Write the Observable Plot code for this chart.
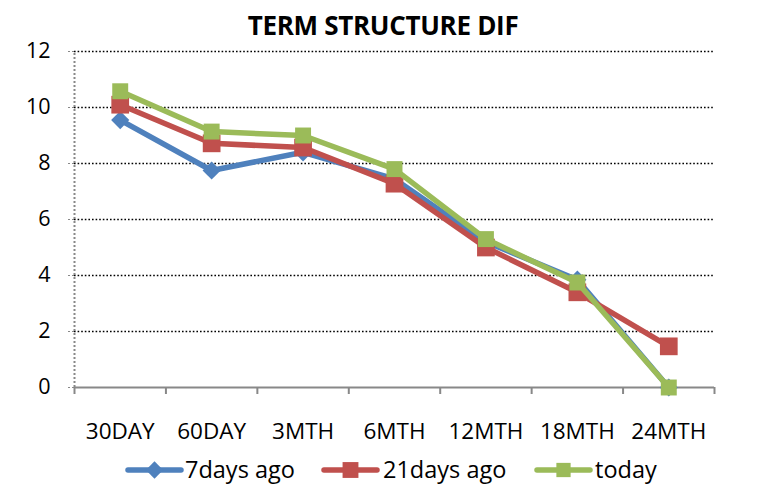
<!DOCTYPE html>
<html><head><meta charset="utf-8">
<script src="https://cdn.jsdelivr.net/npm/d3@7"></script>
<script src="https://cdn.jsdelivr.net/npm/@observablehq/plot@0.6"></script>
<style>
body{margin:0;background:#fff;font-family:"Open Sans",sans-serif;}
#wrap{width:764px;height:494px;position:relative;}
#title{position:absolute;top:0;left:0;width:764px;height:50px;line-height:50px;text-align:center;font-weight:bold;font-size:26px;color:#000;padding-left:2px;box-sizing:border-box;letter-spacing:-0.3px;}
#chart{position:absolute;top:26px;left:0;}
#legend{position:absolute;top:452px;left:0;width:764px;height:36px;}
svg{display:block}
</style></head><body>
<div id="wrap"><div id="title">TERM STRUCTURE DIF</div><div id="chart"></div><div id="legend"></div></div>
<script>
const categories = ["30DAY","60DAY","3MTH","6MTH","12MTH","18MTH","24MTH"];
const seriesNames = ["7days ago","21days ago","today"];
const days7 = [9.55, 7.75, 8.4, 7.45, 5.2, 3.85, 0];
const days21 = [10.1, 8.72, 8.57, 7.28, 5.0, 3.4, 1.47];
const today = [10.58, 9.14, 9.0, 7.8, 5.3, 3.75, 0];
const yTicks = [0, 2, 4, 6, 8, 10, 12];
const colors = ["#4F81BD", "#C0504D", "#9BBB59"];
const symbols = ["diamond2", "square", "square"];
const sizes = [8.2, 10, 9];

const all = [days7, days21, today];
const rows = [];
all.forEach((vals, s) => vals.forEach((v, i) => rows.push({series: seriesNames[s], i, v})));
const edges = d3.range(-0.5, 7, 1);
const FONT = "'Open Sans', sans-serif";

const marks = [
  Plot.ruleY(yTicks.filter(d => d > 0), {stroke: "#000", strokeWidth: 1.6, strokeDasharray: "1.6,2"}),
  Plot.ruleX([-0.5], {y1: 0, y2: 12, stroke: "#888", strokeWidth: 2, strokeDasharray: "2,2"}),
  Plot.axisY({ticks: yTicks, tickSize: 6, tickFormat: () => "", stroke: "#888", strokeDasharray: "2,2", label: null}),
  Plot.axisY({ticks: yTicks, tickSize: 0, tickPadding: 0, dx: -24, fontSize: 21.5, color: "#000", label: null}),
  Plot.axisX({ticks: d3.range(7), tickSize: 0, tickPadding: 36, tickFormat: i => categories[i], fontSize: 22.5, color: "#000", label: null}),
  Plot.axisX({ticks: edges, tickSize: 7, tickFormat: () => "", stroke: "#888", strokeWidth: 2, label: null}),
  Plot.ruleY([0], {stroke: "#888", strokeWidth: 2})
];
seriesNames.forEach((name, s) => {
  const data = rows.filter(r => r.series === name);
  marks.push(Plot.line(data, {x: "i", y: "v", stroke: colors[s], strokeWidth: 5.5}));
  marks.push(Plot.dot(data, {x: "i", y: "v", symbol: () => symbols[s], r: sizes[s], fill: colors[s], stroke: "none"}));
});

const chart = Plot.plot({
  width: 764, height: 426,
  marginLeft: 74, marginRight: 50, marginTop: 25, marginBottom: 65,
  style: {fontFamily: FONT, fontSize: "20px", background: "transparent"},
  x: {domain: [-0.5, 6.5], axis: null},
  y: {domain: [0, 12], axis: null},
  symbol: {type: "identity"},
  marks
});
document.getElementById("chart").appendChild(chart);

// legend
const lg = d3.select("#legend").append("svg").attr("width", 764).attr("height", 36);
const lx0 = [128, 324, 537], lw = 53, tx = [185, 383, 595];
seriesNames.forEach((name, s) => {
  const g = lg.append("g");
  g.append("line").attr("x1", lx0[s]).attr("x2", lx0[s] + lw).attr("y1", 18).attr("y2", 18)
    .attr("stroke", colors[s]).attr("stroke-width", 5.5).attr("stroke-linecap", "round");
  const sym = d3.symbol().type(s === 0 ? d3.symbolDiamond2 : d3.symbolSquare).size(Math.PI * sizes[s] * sizes[s] * (s === 0 ? 0.9 : 0.8));
  g.append("path").attr("d", sym()).attr("transform", `translate(${lx0[s] + lw / 2},18)`).attr("fill", colors[s]);
  g.append("text").attr("x", tx[s]).attr("y", 26).attr("font-size", 23.5).attr("font-family", FONT).attr("fill", "#000").text(name);
});
</script></body></html>
